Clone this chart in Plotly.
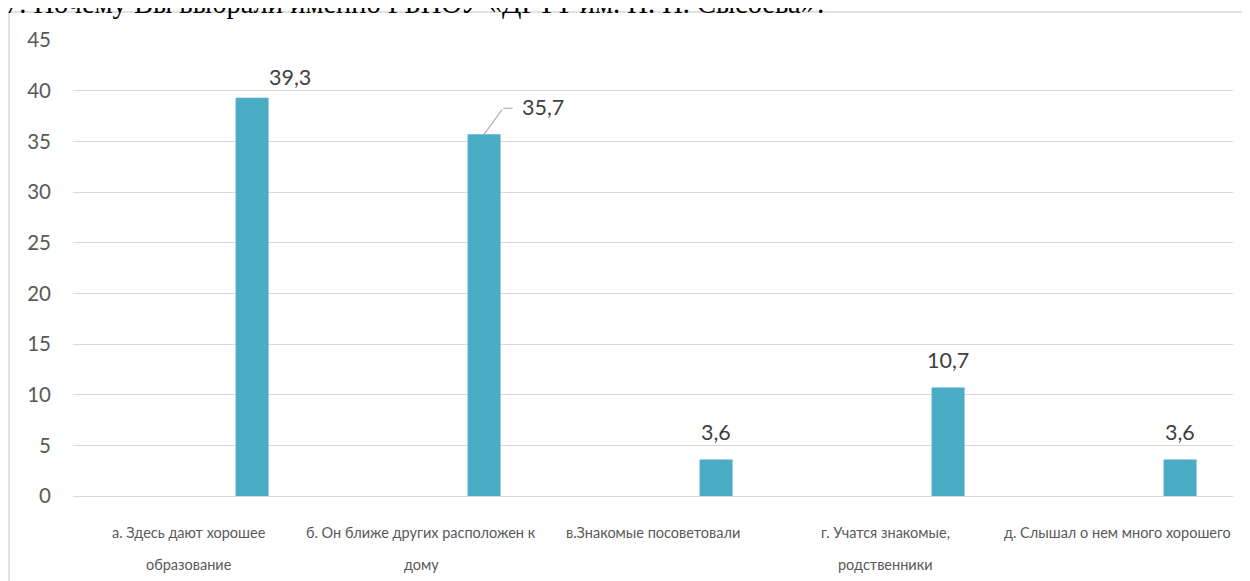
import plotly.graph_objects as go

# Data
categories = [
    "а. Здесь дают хорошее\nобразование",
    "б. Он ближе других расположен к\nдому",
    "в.Знакомые посоветовали",
    "г. Учатся знакомые,\nродственники",
    "д. Слышал о нем много хорошего",
]
values = [39.3, 35.7, 3.6, 10.7, 3.6]
y_ticks = [0, 5, 10, 15, 20, 25, 30, 35, 40, 45]
title_text = "7. Почему Вы выбрали именно ГБПОУ «ДГТТ им. Н. Н. Сысоева»?"

BAR_COLOR = "#4BACC6"
GRID = "#D9D9D9"
FONT = "Lato"

# the page body adds an 8px margin, so the figure is drawn 8px lower/right
PAD = 8
# plot area in page pixels: x 73..1233, y 40..496
W, H = 1160, 456
L, T = 73 - PAD, 40 - PAD
R = 1250 - L - W
B = 581 - T - H

bar_w = 0.142      # bar width in category units
bar_off = 0.201    # left edge offset of the bar from category centre
bar_mid = bar_off + bar_w / 2

x = list(range(len(categories)))

fig = go.Figure()
fig.add_trace(go.Bar(
    x=x, y=values,
    width=bar_w, offset=bar_off,
    marker=dict(color=BAR_COLOR, line=dict(width=0)),
    hoverinfo="y",
))

# data labels: (xshift, yshift) from the top centre of each bar
label_shift = [(38, 6), (59, 12), (0, 13), (0, 13), (0, 13)]
for i, v in enumerate(values):
    dx, dy = label_shift[i]
    fig.add_annotation(
        x=i + bar_mid, y=v, xref="x", yref="y",
        text=f"{v:.1f}".replace(".", ","),
        showarrow=False, yanchor="bottom",
        xshift=dx, yshift=dy,
        font=dict(family=FONT, size=21.5, color="#404040"),
    )

# leader line for the second label
fig.add_annotation(
    x=1 + bar_mid, y=values[1], xref="x", yref="y",
    text="", showarrow=True, arrowhead=0, arrowwidth=1.2,
    arrowcolor="#A6A6A6", ax=19, ay=-26, standoff=0, startstandoff=0,
)
fig.add_annotation(
    x=1 + bar_mid, y=values[1], xref="x", yref="y",
    xshift=19, yshift=26,
    text="", showarrow=True, arrowhead=0, arrowwidth=1.2,
    arrowcolor="#A6A6A6", ax=11, ay=0, standoff=0, startstandoff=0,
)

# category labels (wide line spacing, so one annotation per line)
for i, cat in enumerate(categories):
    for j, line in enumerate(cat.split("\n")):
        fig.add_annotation(
            x=i, y=-(36 + 32 * j) / H, xref="x", yref="paper",
            text=line, showarrow=False, yanchor="middle",
            font=dict(family=FONT, size=14.5, color="#595959"),
        )

# question title, cut off at the top of the picture
fig.add_annotation(
    x=(3 - 73) / W, y=1 + (40 - 10) / H, xref="paper", yref="paper",
    text=title_text, showarrow=False, xanchor="left", yanchor="bottom",
    yshift=-11,
    font=dict(family="Liberation Serif", size=28.5, color="#000000"),
)

# chart border
fig.add_shape(
    type="rect", xref="paper", yref="paper",
    x0=(9 - 73) / W, x1=1.05, y0=-0.3, y1=1 + (40 - 12) / H,
    line=dict(color=GRID, width=1.5), fillcolor="rgba(0,0,0,0)",
)

fig.update_layout(
    width=1250, height=581,
    margin=dict(l=L, r=R, t=T, b=B),
    paper_bgcolor="white", plot_bgcolor="white",
    showlegend=False,
    xaxis=dict(
        range=[-0.5, len(categories) - 0.5],
        showticklabels=False, showgrid=False, zeroline=False,
        showline=False, fixedrange=True,
    ),
    yaxis=dict(
        range=[0, 45], tickvals=y_ticks,
        showgrid=True, gridcolor=GRID, gridwidth=1.3,
        zeroline=True, zerolinecolor=GRID, zerolinewidth=1.3,
        showline=False, ticklabelstandoff=21,
        tickfont=dict(family=FONT, size=20.5, color="#595959"),
        fixedrange=True,
    ),
)

fig.write_html("out.html")
